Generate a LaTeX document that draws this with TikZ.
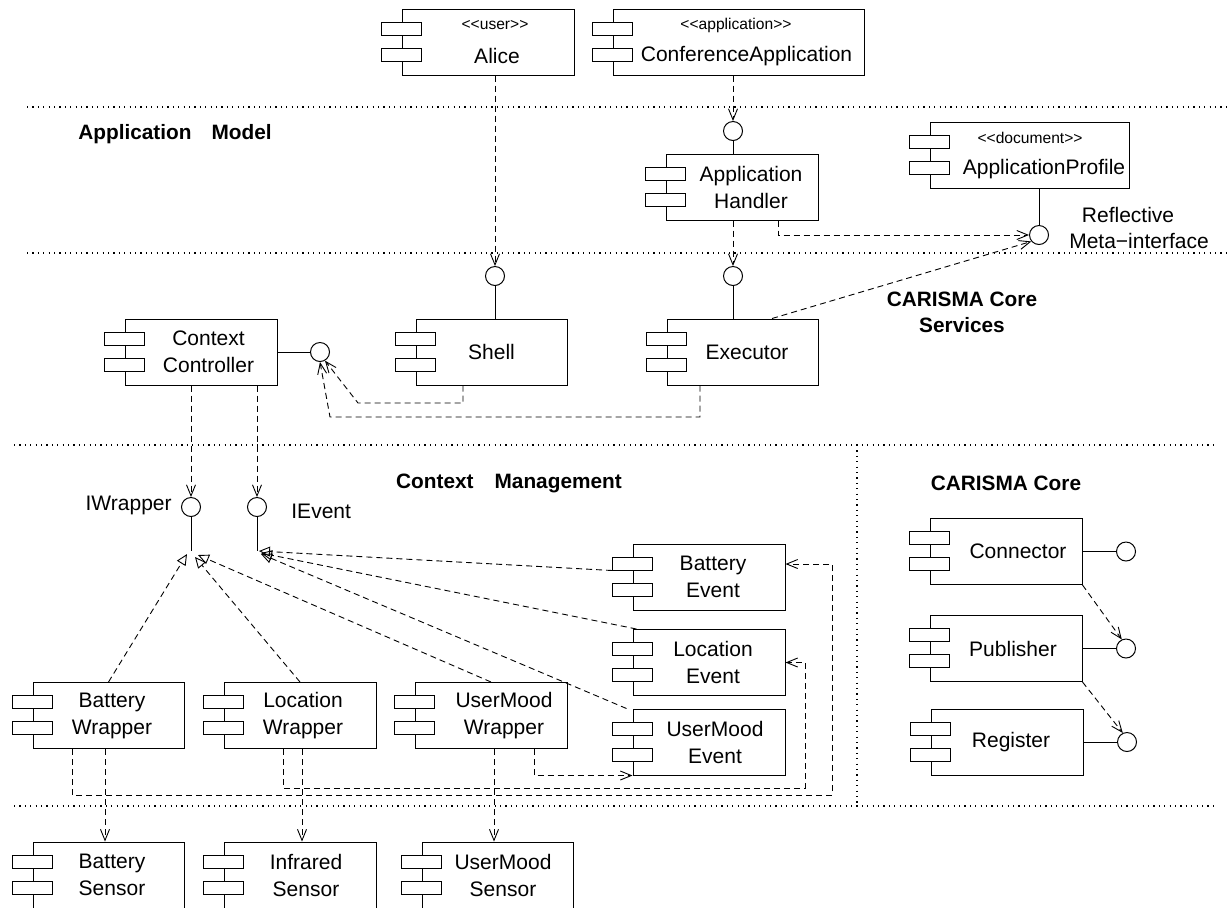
\documentclass[tikz,border=0pt]{standalone}
\usepackage{fontspec}
\setmainfont{Liberation Sans}
\usetikzlibrary{arrows.meta}
\tikzset{
  compbox/.style={draw, line width=0.5pt, minimum height=33pt, inner sep=0pt, fill=white},
  port/.style={draw, line width=0.5pt, fill=white, minimum width=20pt, minimum height=6.5pt, inner sep=0pt},
  complabel/.style={align=center, inner sep=0pt, font=\fontsize{10.5}{13.5}\selectfont},
  stereo/.style={inner sep=0pt, font=\fontsize{7.8}{9}\selectfont},
  iface/.style={draw, circle, line width=0.5pt, minimum size=9.5pt, inner sep=0pt, fill=white},
  sectitle/.style={inner sep=0pt, font=\fontsize{10.4}{13}\selectfont\bfseries, align=center},
  plainlabel/.style={inner sep=0pt, font=\fontsize{10.5}{13.5}\selectfont, align=center},
  sepline/.style={line width=0.55pt, dash pattern=on 0.55pt off 2.15pt},
  dep/.style={line width=0.45pt, dash pattern=on 3pt off 2pt, -{Straight Barb[length=5.5pt,width=4.5pt]}},
  real/.style={line width=0.45pt, dash pattern=on 3pt off 2pt, -{Triangle[open,length=5.5pt,width=5pt]}},
  stem/.style={line width=0.5pt},
}
\newcommand\lt{\textless\kern0pt\textless}
\newcommand\gt{\textgreater\kern0pt\textgreater}
\newcommand\comp[6]{%
  \node[compbox, minimum width=#4*0.5pt] (#1) at (#2,#3) {};
  \node[port] (#1-p1) at ([yshift=-10pt]#1.north west) {};
  \node[port] (#1-p2) at ([yshift=-23pt]#1.north west) {};
  \node[complabel] (#1-l) at ([xshift=#5*0.5pt]#1.center) {#6};
}
\newcommand\scomp[8]{%
  \node[compbox, minimum width=#4*0.5pt] (#1) at (#2,#3) {};
  \node[port] (#1-p1) at ([yshift=-10pt]#1.north west) {};
  \node[port] (#1-p2) at ([yshift=-23pt]#1.north west) {};
  \node[complabel] (#1-l) at ([xshift=#5*0.5pt,yshift=-7pt]#1.center) {#6};
  \node[stereo] (#1-s) at ([xshift=#7*0.5pt,yshift=8.5pt]#1.center) {#8};
}
\begin{document}
\begin{tikzpicture}[x=0.5pt,y=-0.5pt]
\useasboundingbox (0,0) rectangle (1230,907);

% separators
\draw[sepline] (27,107) -- (1230,107);
\draw[sepline] (27,253) -- (1230,253);
\draw[sepline] (14,445) -- (1213,445);
\draw[sepline] (14,806) -- (1213,806);
\draw[sepline] (857,445) -- (857,806);

% section titles
\node[sectitle] (tAM) at (175,134) {Application\hspace{10pt}Model};
\node[sectitle] (tCCS) at (962,312) {CARISMA Core\\Services};
\node[sectitle] (tCM) at (509,483) {Context\hspace{10.5pt}Management};
\node[sectitle] (tCC) at (1006,483) {CARISMA Core};

% components
\scomp{alice}{488}{42}{172}{9}{Alice}{7}{\lt user\gt}
\scomp{confapp}{738.5}{42}{251}{8}{ConferenceApplication}{-2.5}{\lt application\gt}
\comp{ah}{742}{187}{152}{9}{Application\\Handler}
\scomp{ap}{1029.5}{155}{199}{14.5}{ApplicationProfile}{0.5}{\lt document\gt}
\comp{cc}{201}{352}{152}{7.5}{Context\\Controller}
\comp{sh}{491.5}{352}{151}{0}{Shell}
\comp{ex}{742.5}{352}{151}{4.5}{Executor}
\comp{be}{709}{577}{152}{4}{Battery\\Event}
\comp{le}{709}{662.5}{152}{4}{Location\\Event}
\comp{ue}{709}{742}{152}{6}{UserMood\\Event}
\comp{bw}{108.5}{715.5}{151}{3.5}{Battery\\Wrapper}
\comp{lw}{300}{715.5}{152}{3}{Location\\Wrapper}
\comp{uw}{491}{715.5}{152}{13}{UserMood\\Wrapper}
\comp{bs}{108.5}{875}{151}{3.5}{Battery\\Sensor}
\comp{is}{300}{875}{152}{6}{Infrared\\Sensor}
\comp{us}{497.5}{875}{151}{5.5}{UserMood\\Sensor}
\comp{conn}{1006}{551.5}{152}{12}{Connector}
\comp{pub}{1006}{648.5}{152}{7}{Publisher}
\comp{reg}{1007}{742}{152}{4}{Register}

% interfaces
\node[iface] (ahI) at (733,131) {};
\node[iface] (metaI) at (1039,235) {};
\node[iface] (shI) at (495,276) {};
\node[iface] (exI) at (733,276) {};
\node[iface] (ccI) at (320,352) {};
\node[iface] (iw) at (191,507) {};
\node[iface] (ie) at (257,507) {};
\node[iface] (connI) at (1126,551.5) {};
\node[iface] (pubI) at (1126,648.5) {};
\node[iface] (regI) at (1127,742) {};

% interface labels
\node[plainlabel] (lRef) at (1128,215) {Reflective};
\node[plainlabel] (lMeta) at (1139,241) {Meta−interface};
\node[plainlabel, anchor=east] (lIW) at (172,505) {IWrapper};
\node[plainlabel, anchor=west] (lIE) at (291,511) {IEvent};

% free ends
\coordinate (iwEnd) at (191,551);
\coordinate (ieEnd) at (257,551);
\coordinate (iwT1) at (187,554);
\coordinate (iwT2) at (195,557);
\coordinate (iwT3) at (198,555);
\coordinate (ieT1) at (259,551);
\coordinate (ieT2) at (261,553);
\coordinate (ieT3) at (261,554);
\coordinate (shC) at (358,403);
\coordinate (exC) at (330,417);
\coordinate (bwC) at (832,795);
\coordinate (lwC) at (805,788);

% solid stems
\draw[stem] (ahI.south) -- (ahI |- ah.north);
\draw[stem] (ap.south -| metaI) -- (metaI.north);
\draw[stem] (shI.south) -- (shI |- sh.north);
\draw[stem] (exI.south) -- (exI |- ex.north);
\draw[stem] (cc.east) -- (ccI.west);
\draw[stem] (iw.south) -- (iwEnd);
\draw[stem] (ie.south) -- (ieEnd);
\draw[stem] (conn.east) -- (connI.west);
\draw[stem] (pub.east) -- (pubI.west);
\draw[stem] (reg.east) -- (regI.west);

% dependencies
\draw[dep] (alice.south -| shI) -- (shI.north);
\draw[dep] (confapp.south -| ahI) -- (ahI.north);
\draw[dep] (ah.south -| exI) -- (exI.north);
\draw[dep] ([xshift=18pt]ah.south) |- (metaI.west);
\draw[dep] ([xshift=14.75pt]ex.north) -- (metaI.220);
\draw[dep] ([xshift=-14.25pt]sh.south) |- (shC) -- (ccI.300);
\draw[dep] ([xshift=-21.25pt]ex.south) |- (exC) -- (ccI.south);
\draw[dep] (cc.south -| iw) -- (iw.north);
\draw[dep] (cc.south -| ie) -- (ie.north);
\draw[dep] ([xshift=-18.25pt]bw.south) |- (bwC) |- ([yshift=6.5pt]be.east);
\draw[dep] ([xshift=-8.5pt]lw.south) |- (lwC) |- (le.east);
\draw[dep] ([xshift=21.5pt]uw.south) |- (ue.south west);
\draw[dep] ([xshift=-1.75pt]bw.south) -- ([xshift=-1.75pt]bs.north);
\draw[dep] ([xshift=1pt]lw.south) -- ([xshift=1pt]is.north);
\draw[dep] ([xshift=1.5pt]uw.south) coordinate (uwS) -- (uwS |- us.north);
\draw[dep] (conn.south east) -- (pubI.115);
\draw[dep] (pub.south east) -- (regI.115);

% realizations
\draw[real] (bw.north) -- (iwT1);
\draw[real] (lw.north) -- (iwT2);
\draw[real] (uw.north) -- (iwT3);
\draw[real] (be-p1.south west) -- (ieT1);
\draw[real] ([xshift=2pt]le.north west) -- (ieT2);
\draw[real] ([xshift=-3pt]ue.north west) -- (ieT3);
\end{tikzpicture}
\end{document}
